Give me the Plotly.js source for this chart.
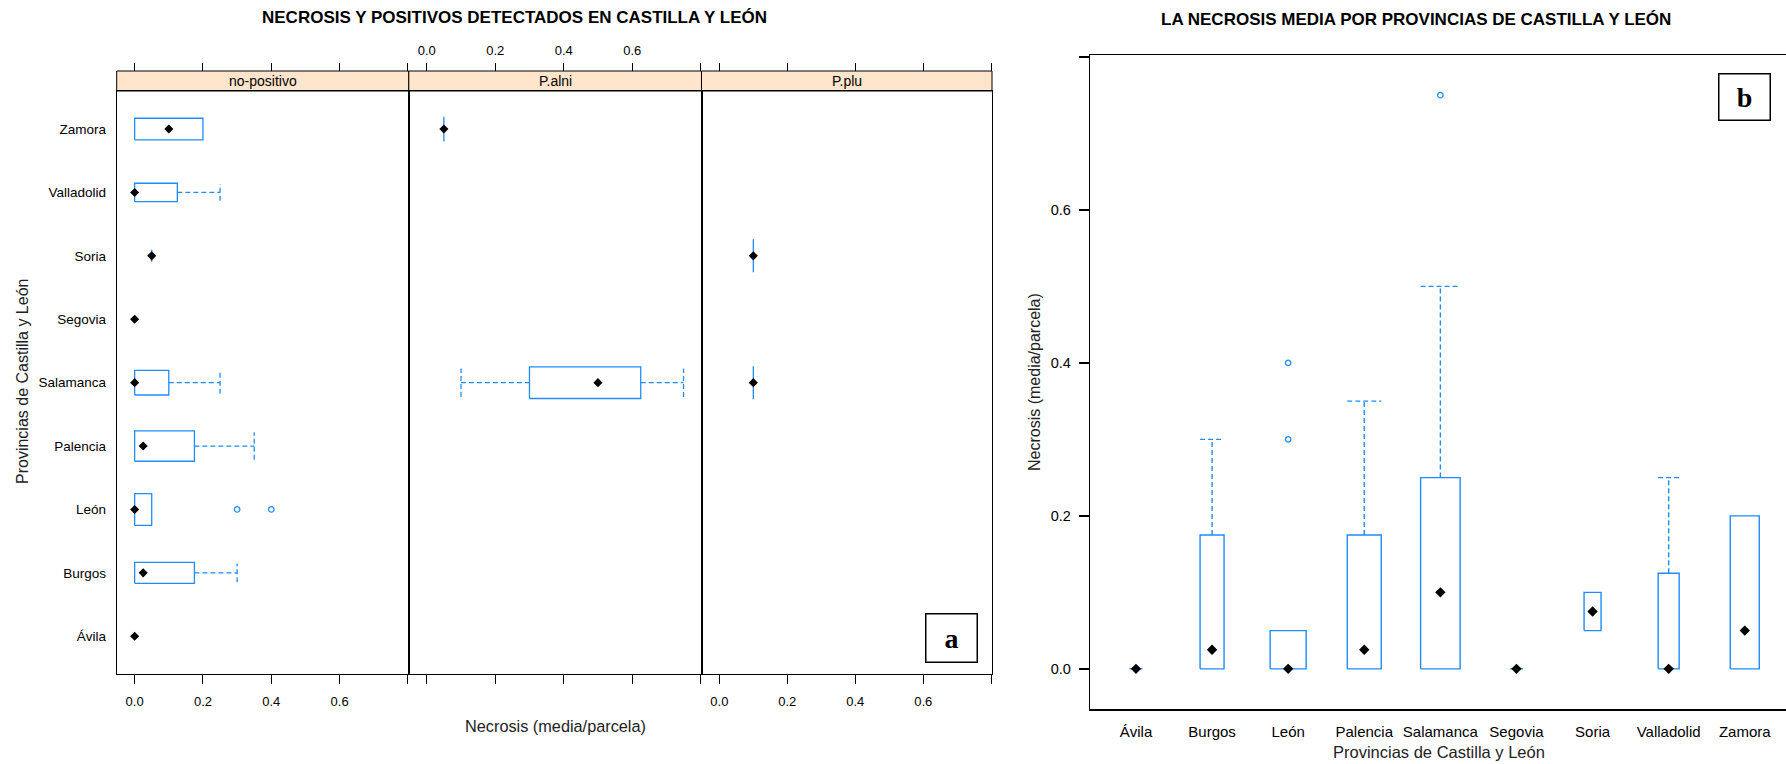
<!DOCTYPE html>
<html>
<head>
<meta charset="utf-8">
<script src="https://cdn.plot.ly/plotly-3.0.1.min.js"></script>
<style>html,body{margin:0;padding:0;background:#fff;}</style>
</head>
<body>
<div id="chart" style="width:1786px;height:764px;"></div>
<script>
// ---------------- DATA ----------------
const provincias = ['Ávila','Burgos','León','Palencia','Salamanca','Segovia','Soria','Valladolid','Zamora'];
const panelNames = ['no-positivo','P.alni','P.plu'];
const tickVals = [0, 0.2, 0.4, 0.6, 0.8];
const tickText = ['0.0', '0.2', '0.4', '0.6', ''];

// Panel a : no-positivo (order = provincias)
const noPosQ1    = [0, 0,     0,    0,     0,    0, 0.05, 0,     0];
const noPosMed   = [0, 0.025, 0,    0.025, 0,    0, 0.05, 0,     0.1];
const noPosQ3    = [0, 0.175, 0.05, 0.175, 0.1,  0, 0.05, 0.125, 0.2];
const noPosLo    = [0, 0,     0,    0,     0,    0, 0.05, 0,     0];
const noPosHi    = [0, 0.3,   0.05, 0.35,  0.25, 0, 0.05, 0.25,  0.2];
const noPosWidth = [0.12, 0.33, 0.5, 0.48, 0.39, 0.12, 0.19, 0.29, 0.34];
const noPosOutProv = ['León', 'León'];
const noPosOutVal  = [0.3, 0.4];

// Panel a : P.alni
const alniQ1    = [null, null, null, null, 0.3,   null, null, null, 0.05];
const alniMed   = [null, null, null, null, 0.5,   null, null, null, 0.05];
const alniQ3    = [null, null, null, null, 0.625, null, null, null, 0.05];
const alniLo    = [null, null, null, null, 0.1,   null, null, null, 0.05];
const alniHi    = [null, null, null, null, 0.75,  null, null, null, 0.05];
const alniWidth = [null, null, null, null, 0.5,   null, null, null, 0.39];

// Panel a : P.plu
const pluQ1    = [null, null, null, null, 0.1,  null, 0.1,  null, null];
const pluMed   = [null, null, null, null, 0.1,  null, 0.1,  null, null];
const pluQ3    = [null, null, null, null, 0.1,  null, 0.1,  null, null];
const pluLo    = [null, null, null, null, 0.1,  null, 0.1,  null, null];
const pluHi    = [null, null, null, null, 0.1,  null, 0.1,  null, null];
const pluWidth = [null, null, null, null, 0.52, null, 0.52, null, null];

// Panel b : all plots
const allQ1    = [0, 0,     0,    0,     0,    0, 0.05,  0,     0];
const allMed   = [0, 0.025, 0,    0.025, 0.1,  0, 0.075, 0,     0.05];
const allQ3    = [0, 0.175, 0.05, 0.175, 0.25, 0, 0.1,   0.125, 0.2];
const allLo    = [0, 0,     0,    0,     0,    0, 0.05,  0,     0];
const allHi    = [0, 0.3,   0.05, 0.35,  0.5,  0, 0.1,   0.25,  0.2];
const allWidth = [0.171, 0.315, 0.473, 0.447, 0.519, 0.171, 0.223, 0.276, 0.381];
const allOutProv = ['León', 'León', 'Salamanca'];
const allOutVal  = [0.3, 0.4, 0.75];

// ---------------- STYLE ----------------
const W = 1786, H = 764;
const BLUE = '#1e8cff';
const FONT = 'Liberation Sans, Arial, sans-serif';
const px = v => v / W;
const py = v => 1 - v / H;

const paX = [[px(116.7), px(408.8)], [px(408.8), px(701.5)], [px(701.5), px(992)]];
const paY = [py(674.3), py(91)];
const stripY = [py(91), py(71)];
const pbX = [px(1090.3), 1];
const pbY = [py(709), py(55)];
const valRange = [-0.0525, 0.8025];
const catRangeA = [0.4, 9.6];
const catRangeB = [0.4, 0.4 + (1786 - 1090.3) / 76.1];

// ---------------- GEOMETRY BUILDERS ----------------
function boxGeom(q1, med, q3, lo, hi, w, capRatio) {
  const g = {box:{v:[],p:[]}, wh:{v:[],p:[]}, cap:{v:[],p:[]}, med:{v:[],p:[]}};
  for (let i = 0; i < q1.length; i++) {
    if (q1[i] === null) continue;
    const pos = i + 1, h = w[i] / 2, hc = h * capRatio;
    g.box.v.push(q1[i], q3[i], q3[i], q1[i], q1[i], null);
    g.box.p.push(pos - h, pos - h, pos + h, pos + h, pos - h, null);
    if (lo[i] < q1[i]) {
      g.wh.v.push(lo[i], q1[i], null); g.wh.p.push(pos, pos, null);
      g.cap.v.push(lo[i], lo[i], null); g.cap.p.push(pos - hc, pos + hc, null);
    }
    if (hi[i] > q3[i]) {
      g.wh.v.push(q3[i], hi[i], null); g.wh.p.push(pos, pos, null);
      g.cap.v.push(hi[i], hi[i], null); g.cap.p.push(pos - hc, pos + hc, null);
    }
    g.med.v.push(med[i]); g.med.p.push(pos);
  }
  return g;
}

function coords(v, p, horiz) { return horiz ? {x: v, y: p} : {x: p, y: v}; }

function boxTraces(g, outProv, outVal, xa, ya, horiz, medSize, lw) {
  const t = [];
  t.push(Object.assign({type:'scatter', mode:'lines', xaxis:xa, yaxis:ya,
    line:{color:BLUE, width:lw}, hoverinfo:'skip', showlegend:false}, coords(g.box.v, g.box.p, horiz)));
  t.push(Object.assign({type:'scatter', mode:'lines', xaxis:xa, yaxis:ya,
    line:{color:BLUE, width:lw, dash:'5px,3px'}, hoverinfo:'skip', showlegend:false}, coords(g.wh.v, g.wh.p, horiz)));
  t.push(Object.assign({type:'scatter', mode:'lines', xaxis:xa, yaxis:ya,
    line:{color:BLUE, width:lw, dash:'5px,3px'}, hoverinfo:'skip', showlegend:false}, coords(g.cap.v, g.cap.p, horiz)));
  if (outProv) {
    const op = outProv.map(n => provincias.indexOf(n) + 1);
    t.push(Object.assign({type:'scatter', mode:'markers', xaxis:xa, yaxis:ya,
      marker:{symbol:'circle-open', color:BLUE, size:5.5, line:{width:1.3, color:BLUE}},
      hoverinfo:'skip', showlegend:false}, coords(outVal, op, horiz)));
  }
  t.push(Object.assign({type:'scatter', mode:'markers', xaxis:xa, yaxis:ya,
    marker:{symbol:'diamond', color:'#000', size:medSize},
    hoverinfo:'skip', showlegend:false}, coords(g.med.v, g.med.p, horiz)));
  return t;
}

const gNoPos = boxGeom(noPosQ1, noPosMed, noPosQ3, noPosLo, noPosHi, noPosWidth, 0.9);
const gAlni  = boxGeom(alniQ1, alniMed, alniQ3, alniLo, alniHi, alniWidth, 0.9);
const gPlu   = boxGeom(pluQ1, pluMed, pluQ3, pluLo, pluHi, pluWidth, 0.9);
const gAll   = boxGeom(allQ1, allMed, allQ3, allLo, allHi, allWidth, 1.0);

let data = [];
data = data.concat(boxTraces(gNoPos, noPosOutProv, noPosOutVal, 'x', 'y', true, 7, 1.3));
data = data.concat(boxTraces(gAlni, null, null, 'x2', 'y2', true, 7, 1.3));
data = data.concat(boxTraces(gPlu, null, null, 'x3', 'y3', true, 7, 1.3));
data = data.concat(boxTraces(gAll, allOutProv, allOutVal, 'x7', 'y4', false, 8, 1.4));

// invisible carriers for the top (overlaying) axes
[['x4','y', gNoPos], ['x5','y2', gAlni], ['x6','y3', gPlu]].forEach(([xa, ya, g]) => {
  data.push({type:'scatter', mode:'markers', x:g.med.v, y:g.med.p, xaxis:xa, yaxis:ya,
    marker:{opacity:0, size:1}, hoverinfo:'skip', showlegend:false});
});

// ---------------- LAYOUT ----------------
const tickFontA = {family:FONT, size:13, color:'#000'};
function bottomAxis(i, showLabels) {
  return {domain: paX[i], anchor: i === 0 ? 'y' : 'y' + (i + 1), range: valRange,
    tickmode:'array', tickvals: tickVals, ticktext: tickText,
    ticks:'outside', ticklen:9, tickwidth:1, tickcolor:'#000',
    showticklabels: showLabels, tickfont: tickFontA, ticklabelstandoff: 6,
    showline:true, mirror:true, linecolor:'#000', linewidth:1,
    showgrid:false, zeroline:false, fixedrange:true};
}
function topAxis(over, showLabels) {
  return {overlaying: over, side:'top', anchor:'free', position: stripY[1], range: valRange,
    tickmode:'array', tickvals: tickVals, ticktext: tickText,
    ticks:'outside', ticklen:8, tickwidth:1, tickcolor:'#000',
    showticklabels: showLabels, tickfont: tickFontA, ticklabelstandoff: 3,
    showline:false, showgrid:false, zeroline:false, fixedrange:true};
}
function catAxisA(i) {
  return {domain: paY, anchor: i === 0 ? 'x' : 'x' + (i + 1), range: catRangeA,
    tickmode:'array', tickvals: provincias.map((_, k) => k + 1), ticktext: provincias,
    ticks:'', showticklabels: i === 0, tickfont:{family:FONT, size:13.5, color:'#000'},
    ticklabelstandoff: 7,
    showline:true, mirror:true, linecolor:'#000', linewidth:1,
    showgrid:false, zeroline:false, fixedrange:true};
}

const shapes = paX.map(d => ({type:'rect', xref:'paper', yref:'paper',
  x0:d[0], x1:d[1], y0:stripY[0], y1:stripY[1],
  fillcolor:'#ffe5cc', line:{color:'#000', width:1}, layer:'below'}));

const annotations = [];
panelNames.forEach((n, i) => annotations.push({xref:'paper', yref:'paper',
  x:(paX[i][0] + paX[i][1]) / 2, y:(stripY[0] + stripY[1]) / 2, text:n, showarrow:false,
  xanchor:'center', yanchor:'middle', font:{family:FONT, size:14, color:'#000'}}));
annotations.push(
  {xref:'paper', yref:'paper', x:px(514), y:py(18), text:'<b>NECROSIS Y POSITIVOS DETECTADOS EN CASTILLA Y LEÓN</b>',
   showarrow:false, xanchor:'center', yanchor:'middle', font:{family:FONT, size:17, color:'#000'}},
  {xref:'paper', yref:'paper', x:px(1415.5), y:py(19), text:'<b>LA NECROSIS MEDIA POR PROVINCIAS DE CASTILLA Y LEÓN</b>',
   showarrow:false, xanchor:'center', yanchor:'middle', font:{family:FONT, size:17, color:'#000'}},
  {xref:'paper', yref:'paper', x:px(555), y:py(726), text:'Necrosis (media/parcela)',
   showarrow:false, xanchor:'center', yanchor:'middle', font:{family:FONT, size:16.3, color:'#222'}},
  {xref:'paper', yref:'paper', x:px(22), y:py(382), text:'Provincias de Castilla y León', textangle:-90,
   showarrow:false, xanchor:'center', yanchor:'middle', font:{family:FONT, size:16, color:'#222'}},
  {xref:'paper', yref:'paper', x:px(1439), y:py(752), text:'Provincias de Castilla y León',
   showarrow:false, xanchor:'center', yanchor:'middle', font:{family:FONT, size:16.5, color:'#222'}},
  {xref:'paper', yref:'paper', x:px(1034), y:py(382), text:'Necrosis (media/parcela)', textangle:-90,
   showarrow:false, xanchor:'center', yanchor:'middle', font:{family:FONT, size:16, color:'#222'}},
  {xref:'paper', yref:'paper', x:px(951.5), y:py(638), text:'<b>a</b>', showarrow:false,
   xanchor:'center', yanchor:'middle', width:50, height:47, borderpad:0,
   bordercolor:'#000', borderwidth:1.5, bgcolor:'#fff',
   font:{family:'Liberation Serif, Times New Roman, serif', size:28, color:'#000'}},
  {xref:'paper', yref:'paper', x:px(1744.5), y:py(96.5), text:'<b>b</b>', showarrow:false,
   xanchor:'center', yanchor:'middle', width:50, height:45, borderpad:0,
   bordercolor:'#000', borderwidth:1.5, bgcolor:'#fff',
   font:{family:'Liberation Serif, Times New Roman, serif', size:28, color:'#000'}}
);

const layout = {
  width: W, height: H, autosize:false,
  margin:{l:0, r:0, t:0, b:0, pad:0},
  paper_bgcolor:'#fff', plot_bgcolor:'#fff',
  showlegend:false,
  xaxis: bottomAxis(0, true),
  xaxis2: bottomAxis(1, false),
  xaxis3: bottomAxis(2, true),
  xaxis4: topAxis('x', false),
  xaxis5: topAxis('x2', true),
  xaxis6: topAxis('x3', false),
  yaxis: catAxisA(0),
  yaxis2: catAxisA(1),
  yaxis3: catAxisA(2),
  xaxis7: {domain: pbX, anchor:'y4', range: catRangeB,
    tickmode:'array', tickvals: provincias.map((_, k) => k + 1), ticktext: provincias,
    ticks:'', tickfont:{family:FONT, size:15, color:'#000'}, ticklabelstandoff: 8,
    showline:true, mirror:true, linecolor:'#000', linewidth:1.5,
    showgrid:false, zeroline:false, fixedrange:true},
  yaxis4: {domain: pbY, anchor:'x7', range: valRange,
    tickmode:'array', tickvals: tickVals, ticktext: tickText,
    ticks:'outside', ticklen:10, tickwidth:1.5, tickcolor:'#000',
    tickfont:{family:FONT, size:14.5, color:'#000'}, ticklabelstandoff: 5,
    showline:true, mirror:false, linecolor:'#000', linewidth:1.5,
    showgrid:false, zeroline:false, fixedrange:true},
  shapes: shapes,
  annotations: annotations
};

Plotly.newPlot('chart', data, layout, {staticPlot:true, displayModeBar:false});
</script>
</body>
</html>
